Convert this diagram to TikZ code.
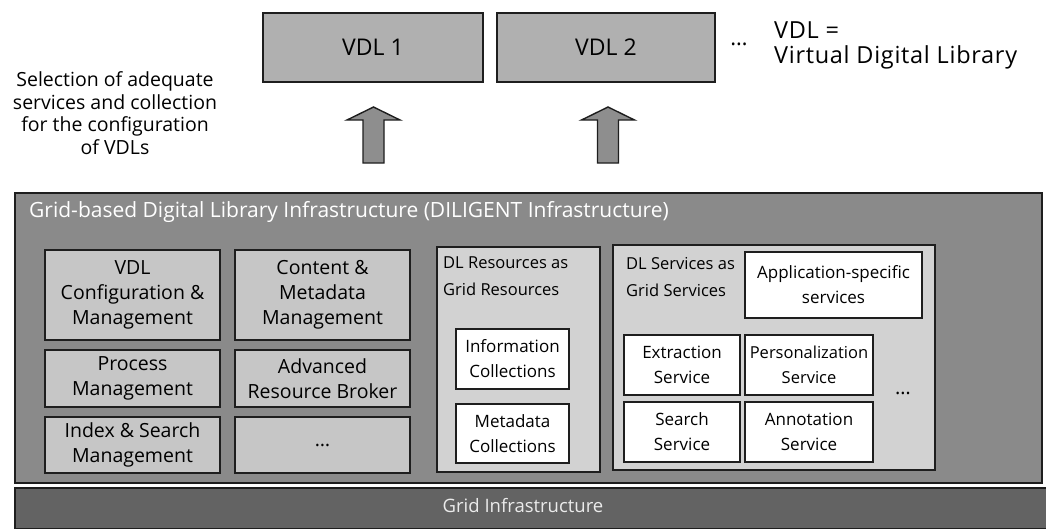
\documentclass[tikz,border=0pt]{standalone}
\usepackage{fontspec}
\setmainfont{Open Sans}
\newfontfamily\spacedfont{Open Sans}[LetterSpace=3]
\definecolor{vdlgray}{HTML}{B0B0B0}
\definecolor{maingray}{HTML}{8A8A8A}
\definecolor{innergray}{HTML}{C6C6C6}
\definecolor{groupgray}{HTML}{D2D2D2}
\definecolor{gridgray}{HTML}{636363}
\definecolor{arrowgray}{HTML}{8E8E8E}
\definecolor{edge}{HTML}{1E1E1E}
\begin{document}
\begin{tikzpicture}[x=1pt,y=-1pt,
  basebox/.style={draw=edge, line width=1.6pt, inner sep=0pt, align=center,
    font=\fontsize{17}{25}\selectfont},
  vdlbox/.style={basebox, fill=vdlgray, minimum width=220pt, minimum height=69pt,
    font=\fontsize{23}{26}\selectfont},
  mgmtbox/.style={basebox, fill=innergray, minimum width=175pt,
    font=\fontsize{19.5}{25}\selectfont},
  groupbox/.style={basebox, fill=groupgray},
  whitebox/.style={basebox, fill=white},
  grouptitle/.style={inner sep=0pt, align=left, anchor=north west,
    font=\fontsize{16.5}{27}\selectfont},
  blockarrow/.style={draw=edge, line width=1.4pt, fill=arrowgray},
  plain/.style={inner sep=0pt, font=\fontsize{19.5}{22.5}\selectfont}
]
\useasboundingbox (0,0) rectangle (1046,528);

% top row
\node[vdlbox] (vdl1) at (373,47.5) {VDL 1};
\node[vdlbox, minimum width=218pt] (vdl2) at (606,47.5) {VDL 2};
\node[plain, font=\fontsize{22}{22}\selectfont] (vdldots) at (739,44) {\dots};
\node[plain, anchor=west, align=left, font=\spacedfont\fontsize{23.5}{25}\selectfont] (legend) at (774,45) {VDL =\\Virtual Digital Library};
\node[plain, align=center] (selection) at (115,113) {Selection of adequate\\services and collection\\for the configuration\\of VDLs};

% block arrows
\foreach \cx/\nm in {373.5/arrA, 608/arrB}{
  \draw[blockarrow] (\cx-10.5,163) -- (\cx-10.5,120) -- (\cx-26.5,120) -- (\cx,107)
    -- (\cx+26.5,120) -- (\cx+10.5,120) -- (\cx+10.5,163) -- cycle;
}

% main infrastructure
\node[basebox, fill=maingray, minimum width=1027pt, minimum height=290pt] (main) at (528.5,338) {};
\node[inner sep=0pt, anchor=west, text=white, font=\fontsize{21}{22}\selectfont] (maintitle) at (29,212) {Grid-based Digital Library Infrastructure (DILIGENT Infrastructure)};

\node[mgmtbox, minimum height=90pt] (vdlcfg) at (132.5,295) {VDL\\Configuration \&\\Management};
\node[mgmtbox, minimum height=90pt] (content) at (322.5,295) {Content \&\\Metadata\\Management};
\node[mgmtbox, minimum height=57pt] (process) at (132.5,378.5) {Process\\Management};
\node[mgmtbox, minimum height=57pt] (broker) at (322.5,378.5) {Advanced\\Resource Broker};
\node[mgmtbox, minimum height=56pt] (index) at (132.5,445) {Index \& Search\\Management};
\node[mgmtbox, minimum height=56pt] (mgmtdots) at (322.5,445) {\dots};

\node[groupbox, minimum width=163pt, minimum height=225pt] (res) at (518.5,359.5) {};
\node[grouptitle] (restitle) at (443,257) {DL Resources as\\Grid Resources};
\node[whitebox, minimum width=113pt, minimum height=60pt] (info) at (512.5,359) {Information\\Collections};
\node[whitebox, minimum width=113pt, minimum height=59pt] (meta) at (512.5,433.5) {Metadata\\Collections};

\node[groupbox, minimum width=322pt, minimum height=225pt] (serv) at (774,357.5) {};
\node[grouptitle] (servtitle) at (626,257) {DL Services as\\Grid Services};
\node[whitebox, minimum width=177pt, minimum height=66pt] (app) at (833.5,285) {Application-specific\\services};
\node[whitebox, minimum width=116pt, minimum height=60pt] (extr) at (682,365) {Extraction\\Service};
\node[whitebox, minimum width=128pt, minimum height=60pt, font=\fontsize{16.5}{25}\selectfont] (pers) at (809,365) {Personalization\\Service};
\node[whitebox, minimum width=116pt, minimum height=60pt] (search) at (682,432) {Search\\Service};
\node[whitebox, minimum width=128pt, minimum height=60pt] (annot) at (809,432) {Annotation\\Service};
\node[plain, font=\fontsize{20}{22}\selectfont] (servdots) at (903,393) {\dots};

% grid infrastructure
\node[basebox, fill=gridgray, minimum width=1033pt, minimum height=41pt] (grid) at (531.5,508.5) {};
\node[plain, text=black!8, font=\fontsize{18.5}{22}\selectfont] (gridtitle) at (523,506) {Grid Infrastructure};
\end{tikzpicture}
\end{document}
